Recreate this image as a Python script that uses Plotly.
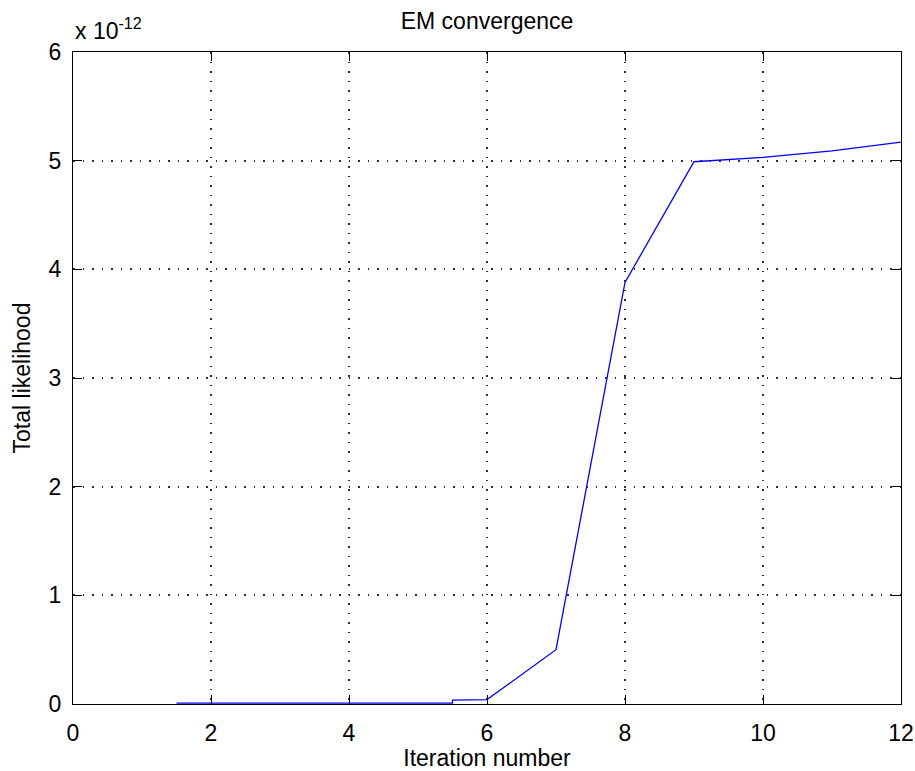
import plotly.graph_objects as go

# Data (likelihood in units of 1e-12)
iteration = [1.5, 5.5, 5.5, 6, 7, 8, 9, 10, 11, 12]
likelihood = [0.008, 0.008, 0.035, 0.04, 0.50, 3.88, 4.99, 5.03, 5.09, 5.17]
exponent = -12

x_ticks = [0, 2, 4, 6, 8, 10, 12]
y_ticks = [0, 1, 2, 3, 4, 5, 6]

FONT = "Liberation Sans"
FS = 23

fig = go.Figure()
fig.add_trace(go.Scatter(
    x=iteration, y=likelihood, mode="lines",
    line=dict(color="#0000ff", width=1.3),
    showlegend=False, hoverinfo="skip",
))

axis_common = dict(
    showline=True, linecolor="black", linewidth=1, mirror="ticks",
    ticks="inside", ticklen=9, tickwidth=1, tickcolor="black",
    showgrid=True, gridcolor="#303030", gridwidth=1.5, griddash="1.5px,8px",
    zeroline=False, automargin=False,
    tickfont=dict(family=FONT, size=FS, color="black"),
)

fig.update_layout(
    width=915, height=771, autosize=False,
    margin=dict(l=73, r=14, t=52, b=67),
    paper_bgcolor="white", plot_bgcolor="white",
    font=dict(family=FONT, size=FS, color="black"),
    title=dict(text="EM convergence", x=0.5, xref="paper", xanchor="center",
               y=1 - 21 / 771, yref="container", yanchor="middle",
               font=dict(family=FONT, size=FS, color="black"), automargin=False),
    xaxis=dict(range=[0, 12], tickvals=x_ticks, ticktext=[str(v) for v in x_ticks],
               ticklabelstandoff=8,
               title=dict(text="Iteration number", standoff=4,
                          font=dict(family=FONT, size=FS)),
               **axis_common),
    yaxis=dict(range=[0, 6], tickvals=y_ticks, ticktext=[str(v) for v in y_ticks],
               ticklabelstandoff=6,
               title=dict(text="Total likelihood", standoff=11,
                          font=dict(family=FONT, size=FS)),
               **axis_common),
    annotations=[dict(
        text=f"x 10<sup>{exponent}</sup>", xref="paper", yref="paper",
        x=0, y=1, xanchor="left", yanchor="bottom", xshift=0, yshift=6,
        showarrow=False, font=dict(family=FONT, size=FS, color="black"),
    )],
)

fig.write_html(
    "out.html",
    config={"displayModeBar": False},
    post_script="document.body.style.margin='0';document.body.style.overflow='hidden';",
)
